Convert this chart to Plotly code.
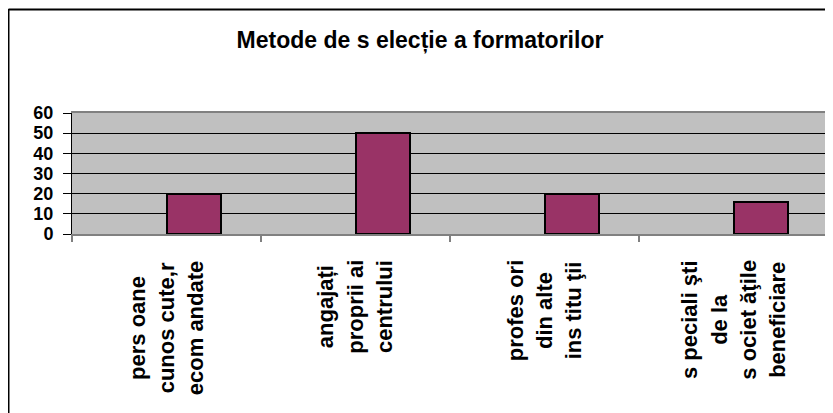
import plotly.graph_objects as go

title_text = "Metode de s elecție a formatorilor"
categories = [
    "pers oane cunos cute,r ecom andate",
    "angajați proprii ai centrului",
    "profes ori din alte ins titu ţii",
    "s peciali şti de la s ociet ăţile beneficiare",
]
label_lines = [
    ["pers oane", "cunos cute,r", "ecom andate"],
    ["angajați", "proprii ai", "centrului"],
    ["profes ori", "din alte", "ins titu ţii"],
    ["s peciali şti", "de la", "s ociet ăţile", "beneficiare"],
]
values = [20, 50, 20, 16]
y_ticks = [0, 10, 20, 30, 40, 50, 60]

FONT = "Arial, Liberation Sans, sans-serif"

fig = go.Figure()
fig.add_trace(go.Bar(
    x=categories, y=values,
    offset=0, width=0.29,
    marker=dict(color="#993366", line=dict(color="black", width=2)),
    showlegend=False, hoverinfo="skip",
))

annotations = []
for cat, lines in zip(categories, label_lines):
    txt = "<br>".join(f'<span style="font-size:22px">{l}</span>' for l in lines)
    annotations.append(dict(
        x=cat, xref="x", y=-0.2, yref="paper",
        text=txt, textangle=-90, showarrow=False,
        xanchor="center", yanchor="top", align="center",
        font=dict(family=FONT, size=22.5, color="black", weight="bold"),
    ))

shapes = [
    # right frame of plot area
    dict(type="line", xref="paper", yref="paper", x0=1, x1=1, y0=0, y1=1,
         line=dict(color="#808080", width=2)),
    # outer chart border (top + left)
    dict(type="line", xref="paper", yref="paper", x0=-0.0840, x1=1.05, y0=1.855, y1=1.855,
         line=dict(color="black", width=2)),
    dict(type="line", xref="paper", yref="paper", x0=-0.0840, x1=-0.0840, y0=1.86, y1=-1.7,
         line=dict(color="black", width=2)),
]

fig.update_layout(
    width=833, height=413,
    margin=dict(l=64, r=13, t=105, b=187),
    paper_bgcolor="white", plot_bgcolor="#C0C0C0",
    title=dict(text=title_text, x=0.4946, xanchor="center", y=0.9225, yanchor="middle",
               yref="container",
               font=dict(family=FONT, size=23, color="black", weight="bold")),
    xaxis=dict(type="category", range=[-0.5, 3.5], showticklabels=False,
               ticks="outside", tickson="boundaries", ticklen=6, tickcolor="#808080",
               tickwidth=1.5, showline=True, linecolor="#808080", linewidth=2,
               mirror=True, showgrid=False),
    yaxis=dict(range=[0, 60], tickvals=y_ticks, ticks="outside", ticklen=8,
               tickcolor="black", showline=True, linecolor="black", linewidth=1,
               showgrid=True, gridcolor="black", gridwidth=1, zeroline=False,
               tickfont=dict(family=FONT, size=18, color="black", weight="bold"),
               ticklabelstandoff=6),
    annotations=annotations, shapes=shapes,
    bargap=0,
)

fig.write_html("out.html")
